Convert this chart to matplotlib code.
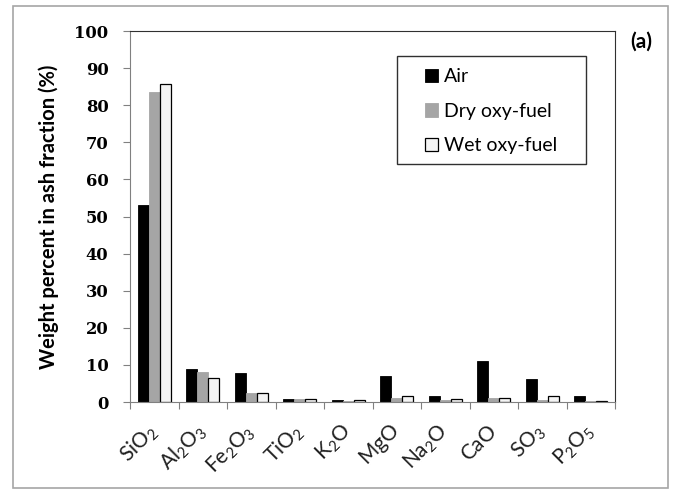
import matplotlib.pyplot as plt
import numpy as np
from matplotlib.patches import Rectangle
from matplotlib.transforms import ScaledTranslation

plt.rcParams['font.family'] = ['Lato', 'DejaVu Sans']

# datos
oxidos = [r'$\mathregular{SiO_2}$', r'$\mathregular{Al_2O_3}$', r'$\mathregular{Fe_2O_3}$',
          r'$\mathregular{TiO_2}$', r'$\mathregular{K_2O}$', r'$\mathregular{MgO}$',
          r'$\mathregular{Na_2O}$', r'$\mathregular{CaO}$', r'$\mathregular{SO_3}$',
          r'$\mathregular{P_2O_5}$']
aire = [53.1, 8.9, 7.7, 0.9, 0.5, 6.9, 1.5, 11.0, 6.3, 1.5]
oxi_seco = [83.5, 8.2, 2.3, 0.7, 0.2, 1.1, 0.6, 1.1, 0.5, 0.2]
oxi_humedo = [85.6, 6.4, 2.4, 0.8, 0.5, 1.6, 0.8, 1.2, 1.6, 0.4]

fig = plt.figure(figsize=(6.73, 4.9), dpi=100)
# marco exterior
fig.patches.append(Rectangle((13/673, 2/490), 655/673, 482/490, transform=fig.transFigure,
                             fill=False, edgecolor='#a6a6a6', linewidth=1.2))

ax = fig.add_axes([130/673, 88/490, 485/673, 371/490])
x = np.arange(len(oxidos))
w = 0.225
ax.bar(x - w, aire, w, color='black', edgecolor='black', linewidth=0.6, label='Air')
ax.bar(x, oxi_seco, w, color='#a5a5a5', edgecolor='#a5a5a5', linewidth=0.6, label='Dry oxy-fuel')
ax.bar(x + w, oxi_humedo, w, color='#f4f4f4', edgecolor='black', linewidth=0.9, label='Wet oxy-fuel')

ax.set_xlim(-0.5, 9.5)
ax.set_ylim(0, 100)
ax.set_yticks(range(0, 101, 10))
ax.set_xticks(np.arange(-0.5, 10, 1))
ax.set_xticklabels([])
ax.set_xticks(x, minor=True)
ax.set_xticklabels(oxidos, minor=True, rotation=45, ha='right', va='center',
                   rotation_mode='anchor', fontsize=15, color='#202020')
desplaza = ScaledTranslation(5/100, -2/100, fig.dpi_scale_trans)
for lbl in ax.get_xticklabels(minor=True):
    lbl.set_transform(lbl.get_transform() + desplaza)
ax.tick_params(axis='x', which='minor', length=0, pad=19)
ax.tick_params(axis='x', which='major', length=5, color='#808080', direction='out')
ax.tick_params(axis='y', length=5, color='#808080', direction='out', pad=10.5)
for lbl in ax.get_yticklabels():
    lbl.set_fontfamily('DejaVu Serif')
    lbl.set_fontweight('bold')
    lbl.set_fontsize(11.8)

for s in ['left', 'bottom']:
    ax.spines[s].set_color('#808080')
for s in ['top', 'right']:
    ax.spines[s].set_color('#303030')

ax.set_ylabel('Weight percent in ash fraction (%)', fontsize=14.5, fontweight='bold')
ax.yaxis.set_label_coords(-0.146, 0.5)

# caja de la leyenda dibujada aparte
ax.add_patch(Rectangle((0.5505, 0.6415), 0.3895, 0.291, transform=ax.transAxes,
                       fill=False, edgecolor='#303030', linewidth=1.0, zorder=5))
leg = ax.legend(loc='upper left', bbox_to_anchor=(0.608, 0.899), fontsize=14, frameon=False,
                handlelength=0.7, handleheight=0.7, handletextpad=0.3,
                labelspacing=0.9, borderpad=0, borderaxespad=0)

fig.text(641/673, 1 - 42/490, '(a)', fontsize=15, fontweight='bold', ha='center', va='center')

fig.savefig('out.png', dpi=100)
